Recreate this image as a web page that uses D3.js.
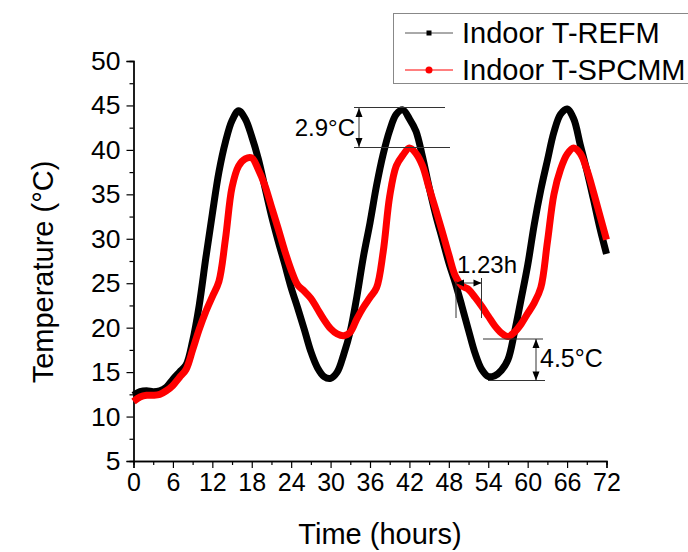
<!DOCTYPE html>
<html><head><meta charset="utf-8">
<script src="https://cdn.jsdelivr.net/npm/d3@7"></script>
<style>body{margin:0;background:#fff;}svg{display:block;font-family:"Liberation Sans",Arial,sans-serif;}</style>
</head><body>
<svg id="c" width="688" height="552"></svg>
<script>
const hours = d3.range(0, 73);
const refm = [12.4,12.8,12.9,12.8,12.9,13.3,14.2,15.0,15.8,18.5,22.5,27.8,32.8,37.5,40.9,43.3,44.4,43.5,41.5,39.0,35.8,32.6,29.8,27.2,24.5,22.2,19.8,17.3,15.5,14.5,14.3,15.0,17.0,19.6,23.5,28.0,31.8,36.0,39.5,42.2,44.0,44.5,43.5,42.1,39.2,35.8,32.7,30.0,27.3,25.0,22.4,19.7,17.1,15.3,14.5,14.6,15.2,16.4,19.5,23.2,27.0,31.6,35.5,38.8,42.0,44.0,44.6,43.5,40.6,37.7,34.5,31.2,28.3];
const spcmm = [11.7,12.2,12.4,12.4,12.5,12.9,13.5,14.4,15.3,17.5,19.8,21.8,23.5,25.2,30.0,35.8,38.2,39.0,39.1,37.8,36.0,33.6,31.2,28.7,26.5,24.8,24.1,23.3,22.1,20.9,19.9,19.3,19.1,19.5,21.0,22.3,23.4,24.5,28.5,34.8,38.2,39.4,40.2,39.6,38.2,35.7,33.3,30.8,28.2,25.8,24.7,24.3,23.4,22.4,21.3,20.2,19.4,19.0,19.5,20.4,21.6,22.8,24.5,29.6,35.0,37.8,39.5,40.2,39.6,37.8,35.3,32.6,29.9];
const xTicks = d3.range(0, 73, 6);
const yTicks = d3.range(5, 51, 5);
const seriesNames = ["Indoor T-REFM", "Indoor T-SPCMM"];
const seriesColors = ["#000000", "#ff0000"];

const svg = d3.select("#c");
const x = d3.scaleLinear().domain([0, 72]).range([133.5, 606.5]);
const y = d3.scaleLinear().domain([5, 50]).range([461, 61]);

// axes
svg.append("g").attr("transform", "translate(0,461)")
  .call(d3.axisBottom(x).tickValues(xTicks).tickSize(7).tickPadding(5).tickFormat(d3.format("d")))
  .selectAll(".tick text").attr("font-size", 25);
svg.append("g").attr("transform", "translate(0,461)")
  .call(d3.axisBottom(x).tickValues(d3.range(3, 72, 6)).tickSize(4).tickFormat(""));
svg.append("g").attr("transform", "translate(133.5,0)")
  .call(d3.axisLeft(y).tickValues(yTicks).tickSize(7).tickPadding(6).tickFormat(d3.format("d")))
  .selectAll(".tick text").attr("font-size", 26.5);
svg.append("g").attr("transform", "translate(133.5,0)")
  .call(d3.axisLeft(y).tickValues(d3.range(7.5, 50, 5)).tickSize(4).tickFormat(""));
svg.selectAll(".domain").attr("stroke", "#000").attr("stroke-width", 1.3);
svg.selectAll(".tick line").attr("stroke", "#000").attr("stroke-width", 1.2);
svg.selectAll(".tick text").attr("fill", "#000").attr("font-family", "Liberation Sans, Arial, sans-serif");

// titles
svg.append("text").attr("x", 380).attr("y", 544).attr("text-anchor", "middle")
  .attr("font-size", 29).text("Time (hours)");
svg.append("text").attr("transform", "translate(53,272) rotate(-90)").attr("text-anchor", "middle")
  .attr("font-size", 29).text("Temperature (°C)");

// lines
const line = d3.line().x((d, i) => x(hours[i])).y(d => y(d)).curve(d3.curveCatmullRom.alpha(0.5));
svg.append("path").datum(refm).attr("d", line).attr("fill", "none").attr("stroke", seriesColors[0]).attr("stroke-width", 7).attr("stroke-linejoin", "round");
svg.append("path").datum(spcmm).attr("d", line).attr("fill", "none").attr("stroke", seriesColors[1]).attr("stroke-width", 7).attr("stroke-linejoin", "round");

// annotations
const ann = svg.append("g").attr("stroke", "#333").attr("stroke-width", 1).attr("fill", "none");
function hl(x1, x2, yy) { ann.append("line").attr("x1", x1).attr("x2", x2).attr("y1", yy).attr("y2", yy); }
function vl(xx, y1, y2) { ann.append("line").attr("x1", xx).attr("x2", xx).attr("y1", y1).attr("y2", y2); }
function vArrow(xx, y1, y2) {
  vl(xx, y1, y2);
  svg.append("path").attr("d", `M${xx},${y1} l-3.5,9 l7,0 Z M${xx},${y2} l-3.5,-9 l7,0 Z`).attr("fill", "#000");
}
function hArrow(x1, x2, yy) {
  hl(x1, x2, yy);
  svg.append("path").attr("d", `M${x1},${yy} l8,-3.5 l0,7 Z M${x2},${yy} l-8,-3.5 l0,7 Z`).attr("fill", "#000");
}
// 2.9°C
hl(354, 445, 107.5); hl(354, 450, 147.5); vArrow(359, 108, 147);
svg.append("text").attr("x", 355).attr("y", 136).attr("text-anchor", "end").attr("font-size", 24).text("2.9°C");
// 1.23h
vl(456, 281, 318); vl(481.5, 278, 318); hArrow(456, 481.5, 283);
svg.append("text").attr("x", 457).attr("y", 273).attr("font-size", 24).text("1.23h");
// 4.5°C
hl(483, 543, 339); hl(488, 545, 380.5); vArrow(536, 339, 380.5);
svg.append("text").attr("x", 540).attr("y", 367).attr("font-size", 25).text("4.5°C");

// legend
const lg = svg.append("g");
lg.append("rect").attr("x", 393.5).attr("y", 13.5).attr("width", 310).attr("height", 70)
  .attr("fill", "#fff").attr("stroke", "#888").attr("stroke-width", 1);
const rows = [33, 70];
seriesNames.forEach((n, i) => {
  lg.append("line").attr("x1", 405).attr("x2", 453).attr("y1", rows[i]).attr("y2", rows[i])
    .attr("stroke", i === 0 ? "#555" : "#ff0000").attr("stroke-width", 1);
  if (i === 0) lg.append("rect").attr("x", 426.5).attr("y", rows[i] - 2.5).attr("width", 5).attr("height", 5).attr("fill", "#000");
  else lg.append("circle").attr("cx", 429).attr("cy", rows[i]).attr("r", 3.5).attr("fill", "#ff0000");
  lg.append("text").attr("x", 462).attr("y", rows[i] + 10).attr("font-size", 29).text(n);
});
</script>
</body></html>
